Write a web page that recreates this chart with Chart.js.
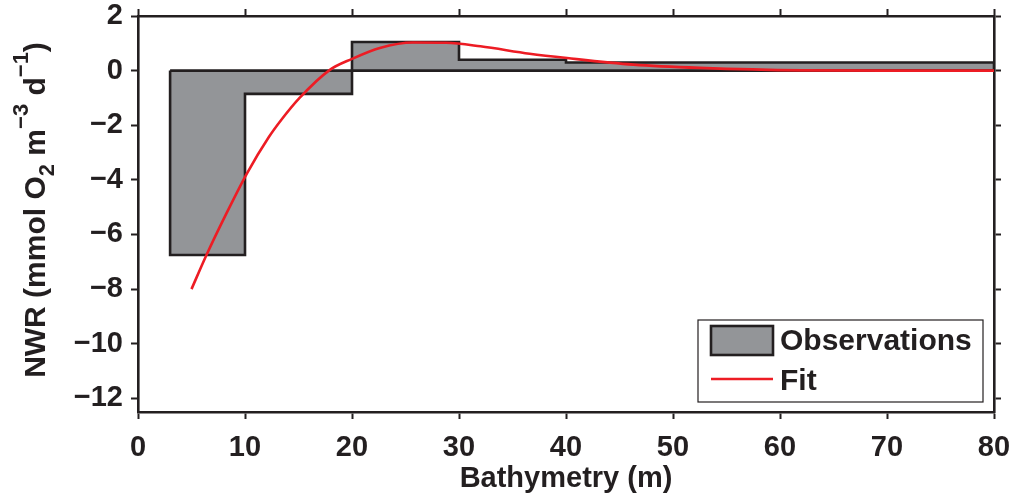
<!DOCTYPE html>
<html>
<head>
<meta charset="utf-8">
<title>NWR vs bathymetry</title>
<script src="https://cdn.jsdelivr.net/npm/chart.js@4.4.0/dist/chart.umd.min.js"></script>
<style>
  html, body { margin: 0; padding: 0; background: #fff; }
  #wrap { width: 1014px; height: 497px; }
</style>
</head>
<body>
<div id="wrap"><canvas id="nwrChart" width="1014" height="497"></canvas></div>
<script>
// observed net water-column respiration per depth bin (edges in m)
const binEdges = [3, 10, 20, 30, 40, 80];
const nwrObserved = [-6.75, -0.85, 1.05, 0.4, 0.3];

// fitted curve, sampled along depth
const fitDepth = [5, 6.4, 8.3, 10.2, 12.2, 13.4, 15.1, 17.9, 20, 22.6, 25.7, 28.8, 32, 36.6, 40.1, 46.3, 52.5, 62, 70, 80];
const fitNwr = [-8.0, -6.75, -5.2, -3.75, -2.45, -1.8, -1.0, 0.02, 0.43, 0.83, 1.03, 1.02, 0.89, 0.62, 0.46, 0.22, 0.1, 0.01, 0, 0];

const xTicks = [0, 10, 20, 30, 40, 50, 60, 70, 80];
const yTicks = [-12, -10, -8, -6, -4, -2, 0, 2];

const INK = "#231f20";
const GREY = "#939598";
const RED = "#ed1c24";
const FONT = '"Liberation Sans", Arial, Helvetica, sans-serif';

Chart.defaults.font.family = FONT;
Chart.defaults.color = INK;

// closed step outline: down the first edge, across each bin, back along zero
const obsOutline = [{ x: binEdges[0], y: 0 }];
nwrObserved.forEach((v, i) => {
  obsOutline.push({ x: binEdges[i], y: v }, { x: binEdges[i + 1], y: v });
});
obsOutline.push({ x: binEdges[binEdges.length - 1], y: 0 }, { x: binEdges[0], y: 0 });

const fitPoints = fitDepth.map((d, i) => ({ x: d, y: fitNwr[i] }));

const minusSign = (v) => (v < 0 ? "\u2212" + Math.abs(v) : String(v));

// shared look for the four box axes
function boxAxis(extra) {
  return Object.assign({
    type: "linear",
    border: { display: true, color: INK, width: 2.6 },
    grid: {
      display: true,
      drawOnChartArea: false,
      drawTicks: true,
      tickLength: 7,
      tickWidth: 2,
      tickColor: INK
    }
  }, extra);
}

// keep the box fixed: no extra room for labels hanging past the ends
function fixSize(prop, px) {
  return (s) => {
    s[prop] = px;
    s.paddingLeft = s.paddingRight = s.paddingTop = s.paddingBottom = 0;
  };
}

// y title with subscript / superscripts, drawn rotated
const yTitlePlugin = {
  id: "yTitle",
  afterDraw(chart) {
    const ctx = chart.ctx;
    const parts = [
      { t: "NWR (mmol O", size: 30, dy: 0 },
      { t: "2", size: 22, dy: 9 },
      { t: " m", size: 30, dy: 0 },
      { t: "\u22123", size: 22, dy: -17 },
      { t: " d", size: 30, dy: 0 },
      { t: "\u22121", size: 22, dy: -17 },
      { t: ")", size: 30, dy: 0 }
    ];
    ctx.save();
    ctx.fillStyle = INK;
    ctx.textBaseline = "alphabetic";
    ctx.textAlign = "left";
    let total = 0;
    parts.forEach((p) => {
      ctx.font = "bold " + p.size + "px " + FONT;
      p.w = ctx.measureText(p.t).width;
      total += p.w;
    });
    const cy = (chart.chartArea.top + chart.chartArea.bottom) / 2 - 4;
    ctx.translate(45, cy);
    ctx.rotate(-Math.PI / 2);
    let x = -total / 2;
    parts.forEach((p) => {
      ctx.font = "bold " + p.size + "px " + FONT;
      ctx.fillText(p.t, x, p.dy);
      x += p.w;
    });
    ctx.restore();
  }
};

// boxed legend in the lower right corner of the plot
const legendPlugin = {
  id: "boxLegend",
  afterDraw(chart) {
    const ctx = chart.ctx;
    const a = chart.chartArea;
    const right = a.right - 11;
    const bottom = a.bottom - 10;
    const left = right - 285;
    const top = bottom - 82;
    ctx.save();
    ctx.fillStyle = "#fff";
    ctx.fillRect(left, top, right - left, bottom - top);
    ctx.strokeStyle = INK;
    ctx.lineWidth = 1.2;
    ctx.strokeRect(left, top, right - left, bottom - top);

    ctx.fillStyle = GREY;
    ctx.fillRect(left + 13, top + 6, 62, 29);
    ctx.lineWidth = 2.6;
    ctx.strokeRect(left + 13, top + 6, 62, 29);

    ctx.strokeStyle = RED;
    ctx.lineWidth = 2.5;
    ctx.beginPath();
    ctx.moveTo(left + 13, top + 59);
    ctx.lineTo(left + 75, top + 59);
    ctx.stroke();

    ctx.fillStyle = INK;
    ctx.font = "bold 30px " + FONT;
    ctx.textBaseline = "middle";
    ctx.fillText("Observations", left + 82, top + 22);
    ctx.fillText("Fit", left + 82, top + 62);
    ctx.restore();
  }
};

new Chart(document.getElementById("nwrChart"), {
  type: "line",
  data: {
    datasets: [
      {
        label: "Fit",
        data: fitPoints,
        borderColor: RED,
        borderWidth: 2.6,
        pointRadius: 0,
        cubicInterpolationMode: "monotone",
        fill: false,
        order: 1
      },
      {
        label: "Observations",
        data: obsOutline,
        borderColor: INK,
        borderWidth: 2.6,
        backgroundColor: GREY,
        borderJoinStyle: "miter",
        pointRadius: 0,
        tension: 0,
        fill: "shape",
        order: 2
      }
    ]
  },
  options: {
    responsive: false,
    animation: false,
    layout: { padding: 0 },
    plugins: {
      legend: { display: false },
      tooltip: { enabled: false }
    },
    scales: {
      x: boxAxis({
        position: "bottom",
        min: 0,
        max: 80,
        afterBuildTicks: (s) => { s.ticks = xTicks.map((v) => ({ value: v })); },
        afterFit: fixSize("height", 85),
        ticks: {
          padding: 12,
          maxRotation: 0,
          font: { size: 29, weight: "bold" },
          color: INK
        },
        title: {
          display: true,
          text: "Bathymetry (m)",
          font: { size: 29, weight: "bold" },
          color: INK,
          padding: { top: 0, bottom: 1 }
        }
      }),
      xTop: boxAxis({
        position: "top",
        min: 0,
        max: 80,
        afterBuildTicks: (s) => { s.ticks = xTicks.map((v) => ({ value: v })); },
        afterFit: fixSize("height", 16),
        ticks: { display: false }
      }),
      y: boxAxis({
        position: "left",
        min: -12.5,
        max: 2,
        afterBuildTicks: (s) => { s.ticks = yTicks.map((v) => ({ value: v })); },
        afterFit: fixSize("width", 138),
        ticks: {
          padding: 8,
          font: { size: 29, weight: "bold" },
          color: INK,
          callback: minusSign
        }
      }),
      yRight: boxAxis({
        position: "right",
        min: -12.5,
        max: 2,
        afterBuildTicks: (s) => { s.ticks = yTicks.map((v) => ({ value: v })); },
        afterFit: fixSize("width", 20),
        ticks: { display: false }
      })
    }
  },
  plugins: [yTitlePlugin, legendPlugin]
});
</script>
</body>
</html>
